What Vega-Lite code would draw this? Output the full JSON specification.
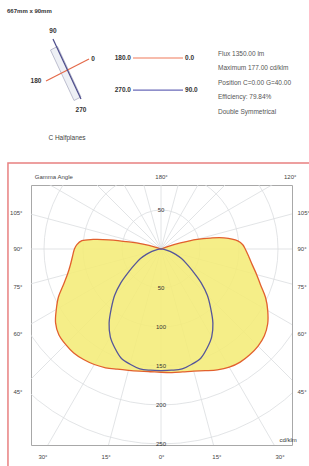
{
  "$schema": "https://vega.github.io/schema/vega-lite/v6.json",
  "width": 261,
  "height": 260,
  "autosize": {"type": "none"},
  "padding": {"left": 31, "top": 185, "right": 17, "bottom": 21},
  "background": "white",
  "config": {
    "view": {"stroke": "#a8a8a8", "strokeWidth": 1},
    "axis": {"domain": false, "ticks": false, "grid": false, "labelFont": "Liberation Sans", "labelFontSize": 6, "labelColor": "#444"},
    "text": {"font": "Liberation Sans"}
  },
  "datasets": {
    "curves": [
      {"plane": "C0", "gamma": 0, "cd": 158}, {"plane": "C0", "gamma": 5, "cd": 159}, {"plane": "C0", "gamma": 10, "cd": 160},
      {"plane": "C0", "gamma": 15, "cd": 162}, {"plane": "C0", "gamma": 20, "cd": 166}, {"plane": "C0", "gamma": 25, "cd": 171},
      {"plane": "C0", "gamma": 30, "cd": 175}, {"plane": "C0", "gamma": 35, "cd": 177}, {"plane": "C0", "gamma": 40, "cd": 177},
      {"plane": "C0", "gamma": 45, "cd": 176}, {"plane": "C0", "gamma": 50, "cd": 173}, {"plane": "C0", "gamma": 55, "cd": 167},
      {"plane": "C0", "gamma": 60, "cd": 158}, {"plane": "C0", "gamma": 65, "cd": 148}, {"plane": "C0", "gamma": 70, "cd": 136},
      {"plane": "C0", "gamma": 75, "cd": 127}, {"plane": "C0", "gamma": 80, "cd": 119}, {"plane": "C0", "gamma": 85, "cd": 113},
      {"plane": "C0", "gamma": 90, "cd": 108}, {"plane": "C0", "gamma": 93, "cd": 105}, {"plane": "C0", "gamma": 96, "cd": 99},
      {"plane": "C0", "gamma": 100, "cd": 82}, {"plane": "C0", "gamma": 102.5, "cd": 65}, {"plane": "C0", "gamma": 105, "cd": 48},
      {"plane": "C0", "gamma": 107.5, "cd": 26}, {"plane": "C0", "gamma": 110, "cd": 8}, {"plane": "C0", "gamma": 112, "cd": 0},
      {"plane": "C180", "gamma": 0, "cd": 158}, {"plane": "C180", "gamma": 5, "cd": 158}, {"plane": "C180", "gamma": 10, "cd": 159},
      {"plane": "C180", "gamma": 15, "cd": 161}, {"plane": "C180", "gamma": 20, "cd": 164}, {"plane": "C180", "gamma": 25, "cd": 168},
      {"plane": "C180", "gamma": 30, "cd": 171}, {"plane": "C180", "gamma": 35, "cd": 173}, {"plane": "C180", "gamma": 40, "cd": 174},
      {"plane": "C180", "gamma": 45, "cd": 173}, {"plane": "C180", "gamma": 50, "cd": 171}, {"plane": "C180", "gamma": 55, "cd": 165},
      {"plane": "C180", "gamma": 60, "cd": 155}, {"plane": "C180", "gamma": 65, "cd": 145}, {"plane": "C180", "gamma": 70, "cd": 133},
      {"plane": "C180", "gamma": 75, "cd": 124}, {"plane": "C180", "gamma": 80, "cd": 118}, {"plane": "C180", "gamma": 85, "cd": 114},
      {"plane": "C180", "gamma": 90, "cd": 111}, {"plane": "C180", "gamma": 93, "cd": 108}, {"plane": "C180", "gamma": 96, "cd": 102},
      {"plane": "C180", "gamma": 98, "cd": 88}, {"plane": "C180", "gamma": 100, "cd": 68}, {"plane": "C180", "gamma": 102.5, "cd": 42},
      {"plane": "C180", "gamma": 105, "cd": 24}, {"plane": "C180", "gamma": 108, "cd": 8}, {"plane": "C180", "gamma": 110, "cd": 0},
      {"plane": "C90", "gamma": 0, "cd": 156}, {"plane": "C90", "gamma": 5, "cd": 156}, {"plane": "C90", "gamma": 10, "cd": 156},
      {"plane": "C90", "gamma": 15, "cd": 153}, {"plane": "C90", "gamma": 20, "cd": 149}, {"plane": "C90", "gamma": 25, "cd": 140},
      {"plane": "C90", "gamma": 30, "cd": 130}, {"plane": "C90", "gamma": 35, "cd": 116}, {"plane": "C90", "gamma": 40, "cd": 99},
      {"plane": "C90", "gamma": 45, "cd": 84}, {"plane": "C90", "gamma": 50, "cd": 67}, {"plane": "C90", "gamma": 55, "cd": 50},
      {"plane": "C90", "gamma": 60, "cd": 38}, {"plane": "C90", "gamma": 65, "cd": 29}, {"plane": "C90", "gamma": 70, "cd": 20},
      {"plane": "C90", "gamma": 75, "cd": 12}, {"plane": "C90", "gamma": 80, "cd": 6}, {"plane": "C90", "gamma": 85, "cd": 2},
      {"plane": "C90", "gamma": 90, "cd": 0},
      {"plane": "C270", "gamma": 0, "cd": 156}, {"plane": "C270", "gamma": 5, "cd": 156}, {"plane": "C270", "gamma": 10, "cd": 156},
      {"plane": "C270", "gamma": 15, "cd": 153}, {"plane": "C270", "gamma": 20, "cd": 149}, {"plane": "C270", "gamma": 25, "cd": 140},
      {"plane": "C270", "gamma": 30, "cd": 130}, {"plane": "C270", "gamma": 35, "cd": 116}, {"plane": "C270", "gamma": 40, "cd": 99},
      {"plane": "C270", "gamma": 45, "cd": 84}, {"plane": "C270", "gamma": 50, "cd": 67}, {"plane": "C270", "gamma": 55, "cd": 50},
      {"plane": "C270", "gamma": 60, "cd": 38}, {"plane": "C270", "gamma": 65, "cd": 29}, {"plane": "C270", "gamma": 70, "cd": 20},
      {"plane": "C270", "gamma": 75, "cd": 12}, {"plane": "C270", "gamma": 80, "cd": 6}, {"plane": "C270", "gamma": 85, "cd": 2},
      {"plane": "C270", "gamma": 90, "cd": 0}
    ],
    "rings": [{"r": 50}, {"r": 100}, {"r": 150}, {"r": 200}, {"r": 250}]
  },
  "resolve": {"axis": {"x": "independent", "y": "independent"}},
  "layer": [
    {
      "data": {"values": [{"a": 0}, {"a": 15}, {"a": 30}, {"a": 45}, {"a": 60}, {"a": 75}, {"a": 90}, {"a": 105}, {"a": 120}, {"a": 135}, {"a": 150}, {"a": 165}, {"a": 180}, {"a": 195}, {"a": 210}, {"a": 225}, {"a": 240}, {"a": 255}, {"a": 270}, {"a": 285}, {"a": 300}, {"a": 315}, {"a": 330}, {"a": 345}]},
      "transform": [
        {"calculate": "500*sin(datum.a*PI/180)", "as": "ex"},
        {"calculate": "-500*cos(datum.a*PI/180)", "as": "ey"},
        {"calculate": "0", "as": "ox"}
      ],
      "mark": {"type": "rule", "clip": true, "color": "#dadde0", "strokeWidth": 0.8},
      "encoding": {
        "x": {"field": "ox", "type": "quantitative", "title": null,
              "scale": {"domain": [-166.67, 167.95], "nice": false, "zero": false},
              "axis": {"orient": "bottom", "values": [-152, -71, 0, 71, 152], "labelPadding": 8,
                       "labelExpr": "abs(datum.value) > 100 ? '30°' : abs(datum.value) > 30 ? '15°' : '0°'"}},
        "y": {"field": "ox", "type": "quantitative", "title": null,
              "scale": {"domain": [-251.28, 82.05], "nice": false, "zero": false},
              "axis": {"orient": "left", "values": [47.4, 0, -48.7, -107.7, -183.3], "labelPadding": 9,
                       "labelExpr": "datum.value > 20 ? '105°' : datum.value > -20 ? '90°' : datum.value > -80 ? '75°' : datum.value > -150 ? '60°' : '45°'"}},
        "x2": {"field": "ex"},
        "y2": {"field": "ey"}
      }
    },
    {
      "data": {"name": "rings"},
      "transform": [{"calculate": "0", "as": "ox"}],
      "mark": {"type": "point", "clip": true, "shape": "circle", "filled": false, "color": "#dadde0", "strokeWidth": 0.8, "opacity": 1},
      "encoding": {
        "x": {"field": "ox", "type": "quantitative", "title": null,
              "axis": {"orient": "top", "values": [-138, 0, 165], "labelPadding": 6,
                       "labelExpr": "datum.value < -100 ? 'Gamma Angle' : datum.value > 100 ? '120°' : '180°'"}},
        "y": {"field": "ox", "type": "quantitative", "title": null,
              "axis": {"orient": "right", "values": [47.4, 0, -48.7, -107.7, -183.3], "labelPadding": 5,
                       "labelExpr": "datum.value > 20 ? '105°' : datum.value > -20 ? '90°' : datum.value > -80 ? '75°' : datum.value > -150 ? '60°' : '45°'"}},
        "size": {"field": "r", "type": "quantitative", "legend": null,
                 "scale": {"type": "pow", "exponent": 2, "domain": [0, 250], "range": [0, 152100]}}
      }
    },
    {
      "data": {"name": "curves"},
      "transform": [
        {"filter": "datum.plane == 'C0' || datum.plane == 'C180'"},
        {"calculate": "datum.plane == 'C0' ? 1 : -1", "as": "s"},
        {"calculate": "datum.s * datum.cd * sin(datum.gamma*PI/180)", "as": "x"},
        {"calculate": "-datum.cd * cos(datum.gamma*PI/180)", "as": "y"},
        {"calculate": "datum.s > 0 ? datum.gamma : 400 - datum.gamma", "as": "ord"}
      ],
      "mark": {"type": "line", "interpolate": "catmull-rom", "fill": "#f4ec78", "fillOpacity": 0.88, "stroke": "#e2602e", "strokeWidth": 1.3},
      "encoding": {
        "x": {"field": "x", "type": "quantitative", "axis": null},
        "y": {"field": "y", "type": "quantitative", "axis": null},
        "order": {"field": "ord", "type": "quantitative"}
      }
    },
    {
      "data": {"name": "curves"},
      "transform": [
        {"filter": "datum.plane == 'C90' || datum.plane == 'C270'"},
        {"calculate": "datum.plane == 'C90' ? 1 : -1", "as": "s"},
        {"calculate": "datum.s * datum.cd * sin(datum.gamma*PI/180)", "as": "x"},
        {"calculate": "-datum.cd * cos(datum.gamma*PI/180)", "as": "y"},
        {"calculate": "datum.s > 0 ? datum.gamma : 400 - datum.gamma", "as": "ord"}
      ],
      "mark": {"type": "line", "interpolate": "catmull-rom", "stroke": "#55569a", "strokeWidth": 1.3},
      "encoding": {
        "x": {"field": "x", "type": "quantitative", "axis": null},
        "y": {"field": "y", "type": "quantitative", "axis": null},
        "order": {"field": "ord", "type": "quantitative"}
      }
    },
    {
      "data": {"name": "rings"},
      "transform": [{"calculate": "-datum.r", "as": "ly"}, {"calculate": "0", "as": "ox"}],
      "mark": {"type": "text", "fontSize": 6, "color": "#333"},
      "encoding": {
        "x": {"field": "ox", "type": "quantitative", "axis": null},
        "y": {"field": "ly", "type": "quantitative", "axis": null},
        "text": {"field": "r", "type": "nominal"}
      }
    },
    {
      "data": {"values": [{"t": "50", "x": 0, "y": 50}, {"t": "cd/klm", "x": 163, "y": -245}]},
      "mark": {"type": "text", "fontSize": 6, "color": "#333"},
      "encoding": {
        "x": {"field": "x", "type": "quantitative", "axis": null},
        "y": {"field": "y", "type": "quantitative", "axis": null},
        "text": {"field": "t", "type": "nominal"}
      }
    },
    {
      "data": {"values": [{"x": -196.2, "x2": 210, "y": 110.3, "y2": -300}]},
      "mark": {"type": "rect", "fill": null, "stroke": "#e88080", "strokeWidth": 1.5},
      "encoding": {
        "x": {"field": "x", "type": "quantitative", "axis": null},
        "x2": {"field": "x2"},
        "y": {"field": "y", "type": "quantitative", "axis": null},
        "y2": {"field": "y2"}
      }
    },
    {
      "data": {"values": [
        {"x": -141.7, "y": 255.1, "i": 1}, {"x": -132.7, "y": 259.6, "i": 2},
        {"x": -102.6, "y": 194.9, "i": 3}, {"x": -111.5, "y": 190.4, "i": 4}, {"x": -141.7, "y": 255.1, "i": 5}
      ]},
      "mark": {"type": "line", "fill": "#eef0f5", "stroke": "#aeb0c4", "strokeWidth": 0.8},
      "encoding": {
        "x": {"field": "x", "type": "quantitative", "axis": null},
        "y": {"field": "y", "type": "quantitative", "axis": null},
        "order": {"field": "i", "type": "quantitative"}
      }
    },
    {
      "data": {"values": [
        {"plane": "C0-C180", "x": -147.4, "y": 215.4}, {"plane": "C0-C180", "x": -92.3, "y": 243.6},
        {"plane": "C90-C270", "x": -138.5, "y": 269.2}, {"plane": "C90-C270", "x": -102.6, "y": 192.3},
        {"plane": "L0-180", "x": -35.9, "y": 244.9}, {"plane": "L0-180", "x": 28.2, "y": 244.9},
        {"plane": "L90-270", "x": -35.9, "y": 203.8}, {"plane": "L90-270", "x": 28.2, "y": 203.8}
      ]},
      "mark": {"type": "line", "strokeWidth": 1.2},
      "encoding": {
        "x": {"field": "x", "type": "quantitative", "axis": null},
        "y": {"field": "y", "type": "quantitative", "axis": null},
        "color": {"field": "plane", "type": "nominal", "legend": null,
                  "scale": {"domain": ["C0-C180", "C90-C270", "L0-180", "L90-270"], "range": ["#e46a4a", "#4a4a8a", "#f07a5a", "#6a6ab8"]}}
      }
    },
    {
      "data": {"values": [
        {"t": "90", "x": -138.5, "y": 279.5},
        {"t": "0", "x": -87.2, "y": 243.6},
        {"t": "180", "x": -160.3, "y": 215.4},
        {"t": "270", "x": -102.6, "y": 178.2}
      ]},
      "mark": {"type": "text", "fontSize": 6.5, "fontWeight": "bold", "color": "#333"},
      "encoding": {
        "x": {"field": "x", "type": "quantitative", "axis": null},
        "y": {"field": "y", "type": "quantitative", "axis": null},
        "text": {"field": "t", "type": "nominal"}
      }
    },
    {
      "data": {"values": [
        {"t": "180.0", "x": -38.5, "y": 244.9},
        {"t": "270.0", "x": -38.5, "y": 203.8}
      ]},
      "mark": {"type": "text", "fontSize": 6.5, "fontWeight": "bold", "color": "#333", "align": "right"},
      "encoding": {
        "x": {"field": "x", "type": "quantitative", "axis": null},
        "y": {"field": "y", "type": "quantitative", "axis": null},
        "text": {"field": "t", "type": "nominal"}
      }
    },
    {
      "data": {"values": [
        {"t": "0.0", "x": 30.8, "y": 244.9},
        {"t": "90.0", "x": 30.8, "y": 203.8}
      ]},
      "mark": {"type": "text", "fontSize": 6.5, "fontWeight": "bold", "color": "#333", "align": "left"},
      "encoding": {
        "x": {"field": "x", "type": "quantitative", "axis": null},
        "y": {"field": "y", "type": "quantitative", "axis": null},
        "text": {"field": "t", "type": "nominal"}
      }
    },
    {
      "data": {"values": [{"t": "C Halfplanes", "x": -120.5, "y": 142.3}]},
      "mark": {"type": "text", "fontSize": 6.5, "color": "#444"},
      "encoding": {
        "x": {"field": "x", "type": "quantitative", "axis": null},
        "y": {"field": "y", "type": "quantitative", "axis": null},
        "text": {"field": "t", "type": "nominal"}
      }
    },
    {
      "data": {"values": [{"t": "667mm x 90mm", "x": -197.4, "y": 305.1}]},
      "mark": {"type": "text", "fontSize": 6, "fontWeight": "bold", "color": "#333", "align": "left"},
      "encoding": {
        "x": {"field": "x", "type": "quantitative", "axis": null},
        "y": {"field": "y", "type": "quantitative", "axis": null},
        "text": {"field": "t", "type": "nominal"}
      }
    },
    {
      "data": {"values": [{"t": "Flux 1350.00  lm\nMaximum 177.00  cd/klm\nPosition C=0.00 G=40.00\nEfficiency:  79.84%\nDouble Symmetrical", "x": 73.1, "y": 254}]},
      "mark": {"type": "text", "fontSize": 6.5, "color": "#555", "align": "left", "baseline": "top", "lineBreak": "\n", "lineHeight": 14.5},
      "encoding": {
        "x": {"field": "x", "type": "quantitative", "axis": null},
        "y": {"field": "y", "type": "quantitative", "axis": null},
        "text": {"field": "t", "type": "nominal"}
      }
    }
  ]
}
